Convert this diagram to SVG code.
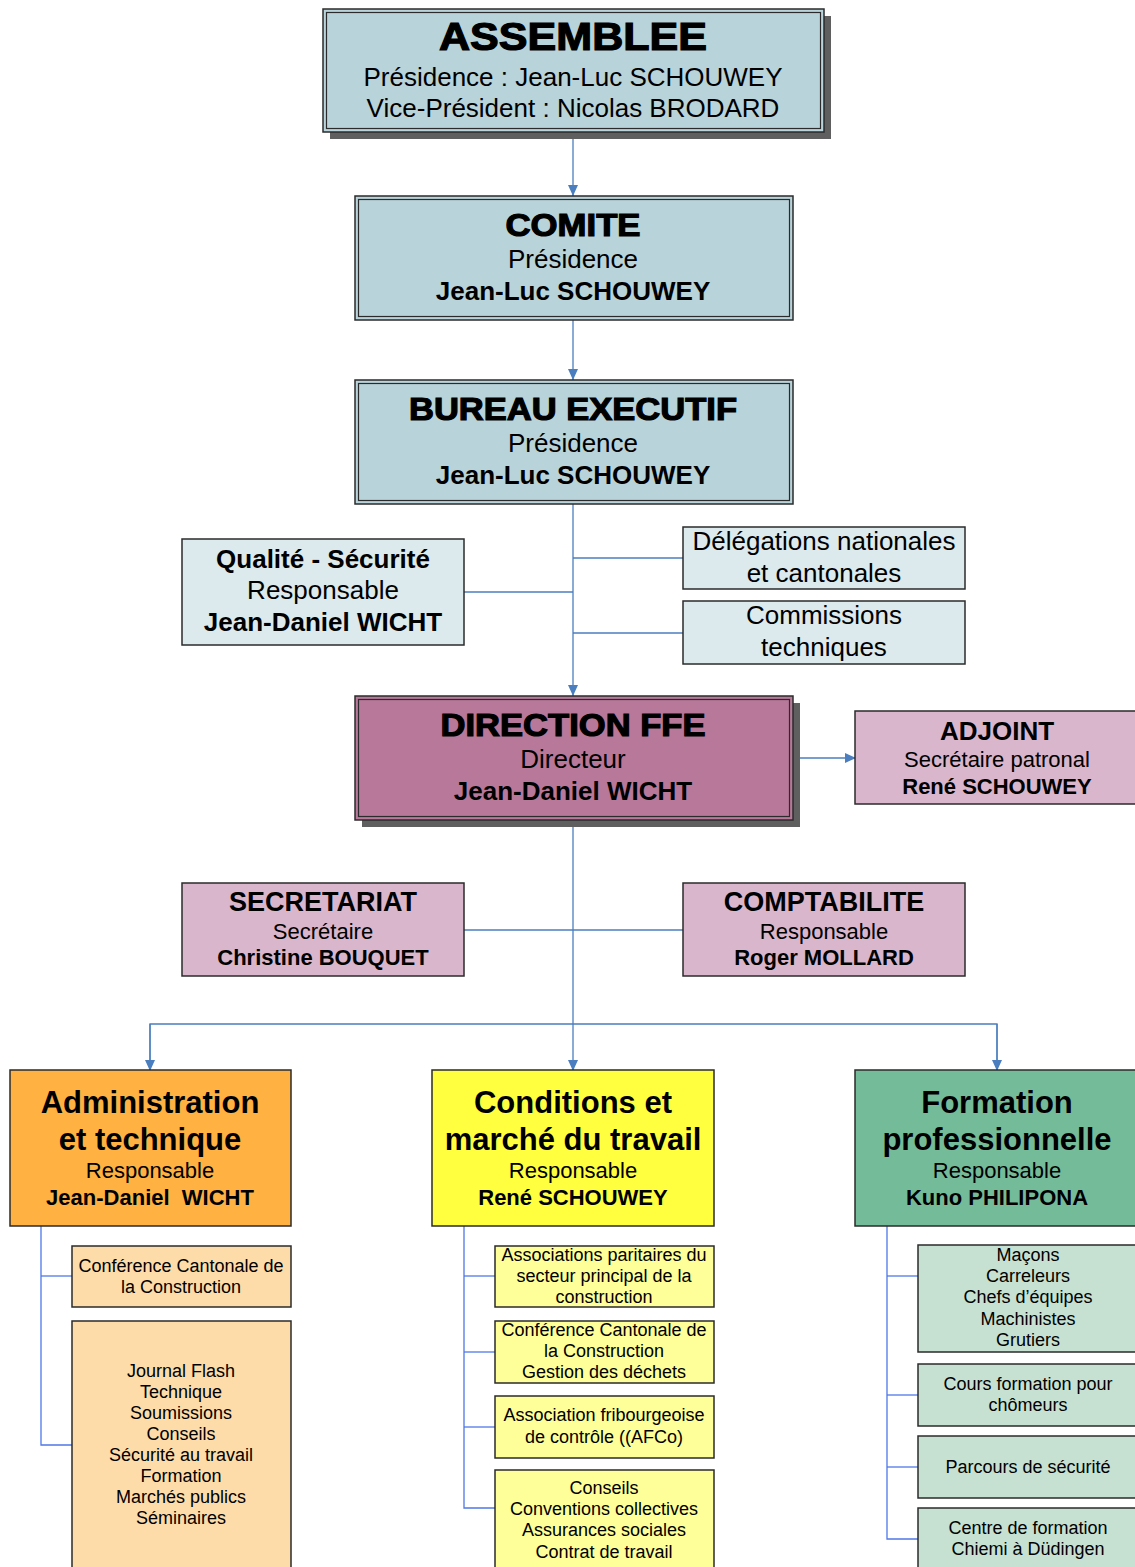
<svg xmlns="http://www.w3.org/2000/svg" width="1135" height="1567" viewBox="0 0 1135 1567">
<defs>
<marker id="arr" markerWidth="12" markerHeight="12" refX="11" refY="6" orient="auto" markerUnits="userSpaceOnUse">
<path d="M0,1 L11,6 L0,11 Z" fill="#4a7ebf"/>
</marker>
<style>
text{font-family:"Liberation Sans",Arial,sans-serif;fill:#000;text-anchor:middle}
.b{font-weight:bold}
.heavy{font-weight:bold;stroke:#000;stroke-width:1.2}
.box{stroke:#2b2b2b;stroke-width:1.5}
.inner{fill:none;stroke:#2b2b2b;stroke-width:1.2}
.sh{fill:#5f5f5f}
.c{fill:none;stroke:#4a7ebf;stroke-width:1.3}
.c2{fill:none;stroke:#4f78e8;stroke-width:1.3}
.t26{font-size:26px}
.t22{font-size:22px}
.t18{font-size:18px}
</style>
</defs>
<rect width="1135" height="1567" fill="#fff"/>
<g id="connectors">
<line class="c" x1="573" y1="132" x2="573" y2="196" marker-end="url(#arr)"/>
<line class="c" x1="573" y1="320" x2="573" y2="380" marker-end="url(#arr)"/>
<line class="c" x1="573" y1="504" x2="573" y2="696" marker-end="url(#arr)"/>
<line class="c" x1="464" y1="592" x2="573" y2="592"/>
<line class="c" x1="573" y1="558" x2="683" y2="558"/>
<line class="c" x1="573" y1="633" x2="683" y2="633"/>
<line class="c" x1="793" y1="758" x2="856" y2="758" marker-end="url(#arr)"/>
<line class="c" x1="573" y1="820" x2="573" y2="1071" marker-end="url(#arr)"/>
<line class="c" x1="464" y1="930" x2="683" y2="930"/>
<polyline class="c" points="150,1071 150,1024 997,1024 997,1071"/>
<line class="c" x1="150" y1="1024" x2="150" y2="1071" marker-end="url(#arr)"/>
<line class="c" x1="997" y1="1024" x2="997" y2="1071" marker-end="url(#arr)"/>
<polyline class="c2" points="41,1226 41,1445 72,1445"/>
<line class="c2" x1="41" y1="1276" x2="72" y2="1276"/>
<polyline class="c2" points="464,1226 464,1508 495,1508"/>
<line class="c2" x1="464" y1="1276" x2="495" y2="1276"/>
<line class="c2" x1="464" y1="1352" x2="495" y2="1352"/>
<line class="c2" x1="464" y1="1427" x2="495" y2="1427"/>
<polyline class="c2" points="887,1226 887,1539 918,1539"/>
<line class="c2" x1="887" y1="1276" x2="918" y2="1276"/>
<line class="c2" x1="887" y1="1395" x2="918" y2="1395"/>
<line class="c2" x1="887" y1="1467" x2="918" y2="1467"/>
</g>
<g id="assemblee">
<rect class="sh" x="330" y="16" width="501" height="123"/>
<rect class="box" x="323" y="9" width="501" height="123" fill="#b8d3da"/>
<rect class="inner" x="326.5" y="12.5" width="494" height="116"/>
<text class="heavy" x="573" y="50" font-size="38" textLength="268" lengthAdjust="spacingAndGlyphs">ASSEMBLEE</text>
<text class="t26" x="573" y="86">Présidence : Jean-Luc SCHOUWEY</text>
<text class="t26" x="573" y="117">Vice-Président : Nicolas BRODARD</text>
</g>
<g id="comite">
<rect class="box" x="355" y="196" width="438" height="124" fill="#b8d3da"/>
<rect class="inner" x="358.5" y="199.5" width="431" height="117"/>
<text class="heavy" x="573" y="236" font-size="32" textLength="135" lengthAdjust="spacingAndGlyphs">COMITE</text>
<text class="t26" x="573" y="268">Présidence</text>
<text class="t26 b" x="573" y="300">Jean-Luc SCHOUWEY</text>
</g>
<g id="bureau">
<rect class="box" x="355" y="380" width="438" height="124" fill="#b8d3da"/>
<rect class="inner" x="358.5" y="383.5" width="431" height="117"/>
<text class="heavy" x="573" y="420" font-size="32" textLength="328" lengthAdjust="spacingAndGlyphs">BUREAU EXECUTIF</text>
<text class="t26" x="573" y="452">Présidence</text>
<text class="t26 b" x="573" y="484">Jean-Luc SCHOUWEY</text>
</g>
<g id="qualite">
<rect class="box" x="182" y="539" width="282" height="106" fill="#dce9ed"/>
<text class="t26 b" x="323" y="568">Qualité - Sécurité</text>
<text class="t26" x="323" y="599">Responsable</text>
<text class="t26 b" x="323" y="631">Jean-Daniel WICHT</text>
</g>
<g id="delegations">
<rect class="box" x="683" y="527" width="282" height="62" fill="#dce9ed"/>
<text class="t26" x="824" y="550">Délégations nationales</text>
<text class="t26" x="824" y="582">et cantonales</text>
</g>
<g id="commissions">
<rect class="box" x="683" y="601" width="282" height="63" fill="#dce9ed"/>
<text class="t26" x="824" y="624">Commissions</text>
<text class="t26" x="824" y="656">techniques</text>
</g>
<g id="direction">
<rect class="sh" x="362" y="703" width="438" height="124"/>
<rect class="box" x="355" y="696" width="438" height="124" fill="#b7789a"/>
<rect class="inner" x="358.5" y="699.5" width="431" height="117"/>
<text class="heavy" x="573" y="736" font-size="32" textLength="265" lengthAdjust="spacingAndGlyphs">DIRECTION FFE</text>
<text class="t26" x="573" y="768">Directeur</text>
<text class="t26 b" x="573" y="800">Jean-Daniel WICHT</text>
</g>
<g id="adjoint">
<rect class="box" x="855" y="711" width="284" height="93" fill="#d9b6cb"/>
<text class="t26 b" x="997" y="740">ADJOINT</text>
<text class="t22" x="997" y="767">Secrétaire patronal</text>
<text class="t22 b" x="997" y="794">René SCHOUWEY</text>
</g>
<g id="secretariat">
<rect class="box" x="182" y="883" width="282" height="93" fill="#d9b6cb"/>
<text class="b" font-size="27" x="323" y="911">SECRETARIAT</text>
<text class="t22" x="323" y="939">Secrétaire</text>
<text class="t22 b" x="323" y="965">Christine BOUQUET</text>
</g>
<g id="comptabilite">
<rect class="box" x="683" y="883" width="282" height="93" fill="#d9b6cb"/>
<text class="b" font-size="27" x="824" y="911">COMPTABILITE</text>
<text class="t22" x="824" y="939">Responsable</text>
<text class="t22 b" x="824" y="965">Roger MOLLARD</text>
</g>
<g id="administration">
<rect class="box" x="10" y="1070" width="281" height="156" fill="#ffb142"/>
<text class="b" font-size="31" x="150" y="1113">Administration</text>
<text class="b" font-size="31" x="150" y="1150">et technique</text>
<text class="t22" x="150" y="1178">Responsable</text>
<text class="t22 b" x="150" y="1205" xml:space="preserve">Jean-Daniel  WICHT</text>
</g>
<g id="conditions">
<rect class="box" x="432" y="1070" width="282" height="156" fill="#ffff40"/>
<text class="b" font-size="31" x="573" y="1113">Conditions et</text>
<text class="b" font-size="31" x="573" y="1150">marché du travail</text>
<text class="t22" x="573" y="1178">Responsable</text>
<text class="t22 b" x="573" y="1205">René SCHOUWEY</text>
</g>
<g id="formation">
<rect class="box" x="855" y="1070" width="284" height="156" fill="#74bb9a"/>
<text class="b" font-size="31" x="997" y="1113">Formation</text>
<text class="b" font-size="31" x="997" y="1150">professionnelle</text>
<text class="t22" x="997" y="1178">Responsable</text>
<text class="t22 b" x="997" y="1205">Kuno PHILIPONA</text>
</g>
<g id="adm1">
<rect class="box" x="72" y="1246" width="219" height="61" fill="#fddcaa"/>
<text class="t18" x="181" y="1272">Conférence Cantonale de</text>
<text class="t18" x="181" y="1293">la Construction</text>
</g>
<g id="adm2">
<rect class="box" x="72" y="1321" width="219" height="250" fill="#fddcaa"/>
<text class="t18" x="181" y="1377">Journal Flash</text>
<text class="t18" x="181" y="1398">Technique</text>
<text class="t18" x="181" y="1419">Soumissions</text>
<text class="t18" x="181" y="1440">Conseils</text>
<text class="t18" x="181" y="1461">Sécurité au travail</text>
<text class="t18" x="181" y="1482">Formation</text>
<text class="t18" x="181" y="1503">Marchés publics</text>
<text class="t18" x="181" y="1524">Séminaires</text>
</g>
<g id="cond1">
<rect class="box" x="495" y="1246" width="219" height="61" fill="#ffff99"/>
<text class="t18" x="604" y="1261">Associations paritaires du</text>
<text class="t18" x="604" y="1282">secteur principal de la</text>
<text class="t18" x="604" y="1303">construction</text>
</g>
<g id="cond2">
<rect class="box" x="495" y="1321" width="219" height="62" fill="#ffff99"/>
<text class="t18" x="604" y="1336">Conférence Cantonale de</text>
<text class="t18" x="604" y="1357">la Construction</text>
<text class="t18" x="604" y="1378">Gestion des déchets</text>
</g>
<g id="cond3">
<rect class="box" x="495" y="1396" width="219" height="62" fill="#ffff99"/>
<text class="t18" x="604" y="1421">Association fribourgeoise</text>
<text class="t18" x="604" y="1443">de contrôle ((AFCo)</text>
</g>
<g id="cond4">
<rect class="box" x="495" y="1470" width="219" height="100" fill="#ffff99"/>
<text class="t18" x="604" y="1494">Conseils</text>
<text class="t18" x="604" y="1515">Conventions collectives</text>
<text class="t18" x="604" y="1536">Assurances sociales</text>
<text class="t18" x="604" y="1558">Contrat de travail</text>
</g>
<g id="form1">
<rect class="box" x="918" y="1245" width="221" height="107" fill="#c6e0d2"/>
<text class="t18" x="1028" y="1261">Maçons</text>
<text class="t18" x="1028" y="1282">Carreleurs</text>
<text class="t18" x="1028" y="1303">Chefs d’équipes</text>
<text class="t18" x="1028" y="1325">Machinistes</text>
<text class="t18" x="1028" y="1346">Grutiers</text>
</g>
<g id="form2">
<rect class="box" x="918" y="1364" width="221" height="62" fill="#c6e0d2"/>
<text class="t18" x="1028" y="1390">Cours formation pour</text>
<text class="t18" x="1028" y="1411">chômeurs</text>
</g>
<g id="form3">
<rect class="box" x="918" y="1436" width="221" height="62" fill="#c6e0d2"/>
<text class="t18" x="1028" y="1473">Parcours de sécurité</text>
</g>
<g id="form4">
<rect class="box" x="918" y="1508" width="221" height="62" fill="#c6e0d2"/>
<text class="t18" x="1028" y="1534">Centre de formation</text>
<text class="t18" x="1028" y="1555">Chiemi à Düdingen</text>
</g>
</svg>
